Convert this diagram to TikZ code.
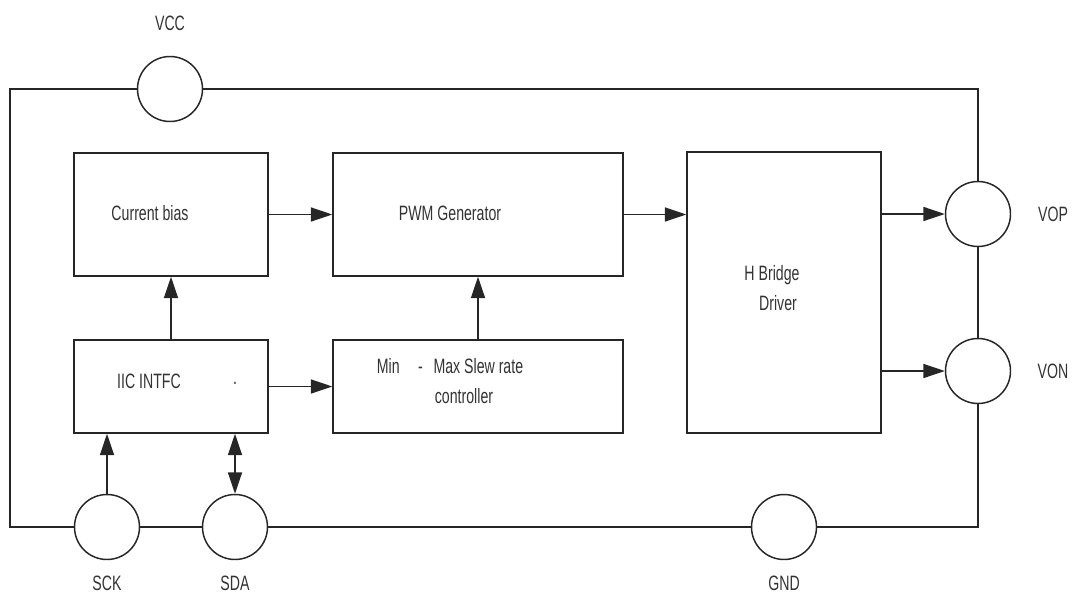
\documentclass[tikz,border=0pt]{standalone}
\usepackage{fontspec}
\setmainfont{Liberation Sans}[FakeStretch=0.68]
\usetikzlibrary{arrows.meta, positioning}
\tikzset{
    blk/.style={draw=black!85, rectangle, line width=1.1pt, inner sep=0pt},
    pin/.style={draw=black!85, circle, line width=1.1pt, minimum size=48.75pt, inner sep=0pt},
    txt/.style={font=\fontsize{15.6}{22}\selectfont, text=black!80, align=center, inner sep=0pt},
    wire/.style={line width=1.1pt, draw=black!85},
    arrow/.style={wire, -{Triangle[length=16pt,width=10.5pt]}},
    darrow/.style={wire, {Triangle[length=16pt,width=10.5pt]}-{Triangle[length=16pt,width=10.5pt]}}
}
\begin{document}
\begin{tikzpicture}[x=0.75pt, y=-0.75pt]
        \useasboundingbox (0,0) rectangle (1074,596);

        % Blocchi interni
        \node (bias) [blk, minimum width=145.5pt, minimum height=92.25pt] at (171,214.5) {};
        \node (pwm) [blk, minimum width=217.5pt, minimum height=92.25pt] at (478,214.5) {};
        \node (hbr) [blk, minimum width=145.5pt, minimum height=210.75pt] at (784,292.5) {};
        \node (iic) [blk, minimum width=145.5pt, minimum height=69.75pt] at (171,386.5) {};
        \node (slew) [blk, minimum width=217.5pt, minimum height=69.75pt] at (478,386.5) {};

        \node [txt] at (150,213) {Current bias};
        \node [txt] at (450,213) {PWM Generator};
        \node [txt] at (772,288) {H Bridge\\\hspace*{9pt}Driver};
        \node [txt] at (149,381) {IIC INTFC};
        \node [txt] at (235,383) {.};
        \node [txt] at (450,381) {Min\hspace{11pt} - \hspace{5pt}Max Slew rate\\\hspace*{21pt}controller};

        % Pin
        \node (vcc) [pin] at (170,89) {};
        \node (vop) [pin] at (978,214) {};
        \node (von) [pin] at (978,371) {};
        \node (sck) [pin] at (107,527) {};
        \node (sda) [pin] at (235,527) {};
        \node (gnd) [pin] at (784,527) {};

        \node [txt] at (170,23) {VCC};
        \node [txt] at (1053,214) {VOP};
        \node [txt] at (1053,371) {VON};
        \node [txt] at (107,583) {SCK};
        \node [txt] at (235,583) {SDA};
        \node [txt] at (784,583) {GND};

        % Anello di alimentazione
        \coordinate (tl) at (10,89);
        \coordinate (tr) at (978,89);
        \coordinate (bl) at (10,527);
        \coordinate (br) at (978,527);
        \draw [wire] (vcc.west) -- (tl) -- (bl) -- (sck.west);
        \draw [wire] (sck.east) -- (sda.west);
        \draw [wire] (sda.east) -- (gnd.west);
        \draw [wire] (gnd.east) -- (br) -- (von.south);
        \draw [wire] (von.north) -- (vop.south);
        \draw [wire] (vop.north) -- (tr) -- (vcc.east);

        % Segnali
        \draw [arrow] (bias.east) -- (pwm.west);
        \draw [arrow] (pwm.east) -- (pwm.east -| hbr.west);
        \draw [arrow] (hbr.east |- vop.west) -- (vop.west);
        \draw [arrow] (hbr.east |- von.west) -- (von.west);
        \draw [arrow] (iic.east) -- (slew.west);
        \draw [arrow] (iic.north) -- (bias.south);
        \draw [arrow] (slew.north) -- (pwm.south);
        \draw [arrow] (sck.north) -- (sck.north |- iic.south);
        \draw [darrow] (sda.north) -- (sda.north |- iic.south);

    \end{tikzpicture}
\end{document}
